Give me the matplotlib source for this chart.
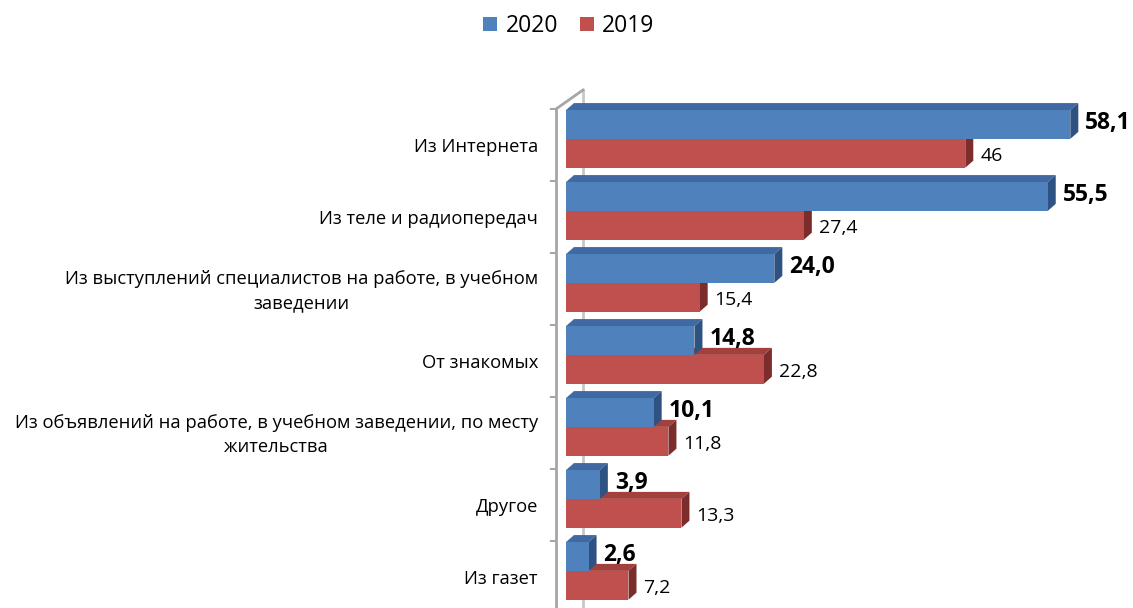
import matplotlib
matplotlib.use("Agg")
import matplotlib.pyplot as plt
from matplotlib.patches import Polygon, Patch
import numpy as np

plt.rcParams['font.family'] = ['Open Sans', 'Noto Sans', 'DejaVu Sans']

categories = [
    "Из Интернета",
    "Из теле и радиопередач",
    "Из выступлений специалистов на работе, в учебном\nзаведении",
    "От знакомых",
    "Из объявлений на работе, в учебном заведении, по месту\nжительства",
    "Другое",
    "Из газет",
]
values_2020 = [58.1, 55.5, 24.0, 14.8, 10.1, 3.9, 2.6]
values_2019 = [46, 27.4, 15.4, 22.8, 11.8, 13.3, 7.2]
labels_2020 = ["58,1", "55,5", "24,0", "14,8", "10,1", "3,9", "2,6"]
labels_2019 = ["46", "27,4", "15,4", "22,8", "11,8", "13,3", "7,2"]
series_names = ["2020", "2019"]

W, H = 1133, 608
fig = plt.figure(figsize=(W / 100, H / 100), dpi=100)

# layout in pixels
x0_px, ppu = 566, 8.68          # pixel of value 0, pixels per unit
top_px, row_px, first_px = 88, 72, 109
ax = fig.add_axes([x0_px / W, 0, (W - x0_px) / W, (H - top_px) / H])
ax.set_xlim(0, (W - x0_px) / ppu)
ax.set_ylim((H - first_px) / row_px, (top_px - first_px) / row_px)
ax.axis('off')

px_x = 1.0 / ppu      # one pixel in x data units
px_y = 1.0 / row_px   # one pixel in y data units
dx = 8 * px_x
dy = -7 * px_y

blue_front, blue_top, blue_side = "#4F81BD", "#3F69A0", "#2E5282"
red_front, red_top, red_side = "#C0504D", "#A2403D", "#7C2C2A"

h = 0.40
idx = np.arange(len(categories))
blue_y = idx + 0.015
red_y = idx + 0.015 + h


def bar3d(v, y0, front, topc, side, z):
    y1 = y0 + h
    ax.add_patch(Polygon([(0, y0), (v, y0), (v + dx, y0 + dy), (dx, y0 + dy)],
                         closed=True, facecolor=topc, edgecolor='none', zorder=z, clip_on=False))
    ax.add_patch(Polygon([(v, y0), (v + dx, y0 + dy), (v + dx, y1 + dy), (v, y1)],
                         closed=True, facecolor=side, edgecolor='none', zorder=z, clip_on=False))
    ax.barh(y0 + h / 2, v, height=h, left=0, color=front, zorder=z + 0.5, clip_on=False)


# axis lines (3D wall edges)
gray = "#A6A6A6"
ymax = (H - first_px) / row_px
back_x = 17 * px_x
front_x = -10 * px_x
ax.plot([back_x, back_x], [-19 * px_y, ymax], color="#C8C8C8", lw=2, zorder=0.5, clip_on=False)
ax.plot([front_x, back_x], [0, -19 * px_y], color=gray, lw=2, zorder=0.6, clip_on=False)
ax.plot([front_x, front_x], [0, ymax], color=gray, lw=2, zorder=0.6, clip_on=False)
for k in range(len(categories) + 1):
    ax.plot([front_x - 5 * px_x, front_x], [k, k], color=gray, lw=1.5, zorder=0.6, clip_on=False)

for i in idx:
    bar3d(values_2019[i], red_y[i], red_front, red_top, red_side, 2)
    bar3d(values_2020[i], blue_y[i], blue_front, blue_top, blue_side, 3)
    ax.text(values_2020[i] + 15 * px_x, blue_y[i] + h / 2 - 1 * px_y, labels_2020[i],
            ha='left', va='center', fontsize=16.5, fontweight='bold', color='black', zorder=5,
            family=['Open Sans', 'DejaVu Sans'])
    ax.text(values_2019[i] + 15 * px_x, red_y[i] + h / 2 + 3 * px_y, labels_2019[i],
            ha='left', va='center', fontsize=14, color='black', zorder=5)
    ax.text(-28 * px_x, i + 0.53, categories[i], ha='right', va='center',
            multialignment='center', fontsize=13.2, linespacing=1.45, color='black')

handles = [Patch(facecolor=blue_front, edgecolor='none'), Patch(facecolor=red_front, edgecolor='none')]
fig.legend(handles, series_names, loc='center', bbox_to_anchor=(0.502, 1 - 26 / H), ncol=2,
           frameon=False, fontsize=16.5, handlelength=0.62, handleheight=0.62,
           handletextpad=0.35, columnspacing=0.95, borderaxespad=0)

fig.savefig("out.png", dpi=100)
